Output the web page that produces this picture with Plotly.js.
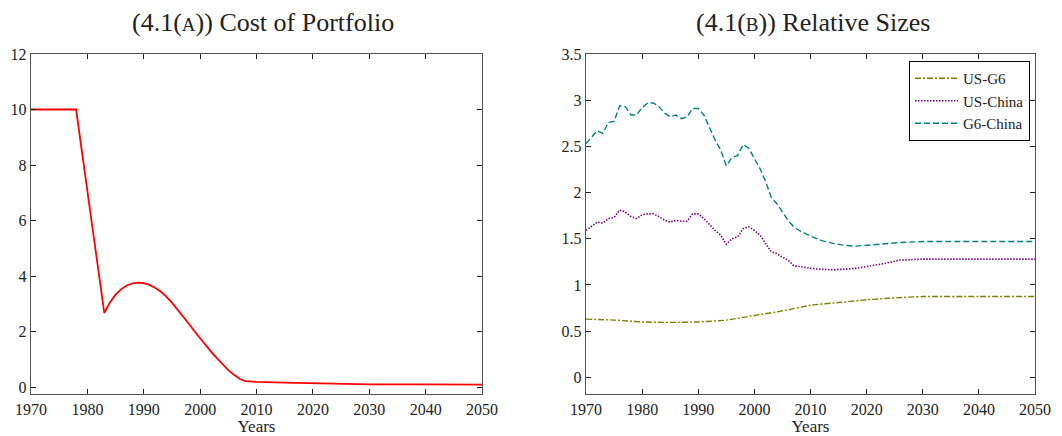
<!DOCTYPE html>
<html>
<head>
<meta charset="utf-8">
<script src="https://cdn.plot.ly/plotly-3.0.1.min.js"></script>
<style>html,body{margin:0;padding:0;background:#fff;}#chart{width:1062px;height:436px;}</style>
</head>
<body>
<div id="chart"></div>
<script>
// Panel A: cost of portfolio
const costYears = [1970,1978,1983,1984,1985,1986,1987,1988,1989,1990,1991,1992,1993,1994,1995,1996,1997,1998,1999,2000,2001,2002,2003,2004,2005,2006,2007,2008,2009,2010,2015,2020,2025,2030,2040,2050];
const costValues = [10,10,2.67,3.05,3.33,3.53,3.66,3.74,3.76,3.74,3.68,3.58,3.44,3.26,3.04,2.80,2.55,2.28,2.01,1.75,1.50,1.26,1.03,0.81,0.61,0.44,0.30,0.21,0.19,0.185,0.16,0.14,0.12,0.10,0.095,0.09];

// Panel B: relative sizes
const relYears = [1970,1972,1973,1974,1975,1976,1977,1978,1979,1980,1981,1982,1983,1984,1985,1986,1987,1988,1989,1990,1991,1992,1993,1994,1995,1996,1997,1998,1999,2000,2001,2002,2003,2004,2005,2006,2007,2008,2010,2012,2014,2016,2018,2020,2023,2026,2030,2040,2050];
const g6China = [2.53,2.67,2.64,2.76,2.77,2.94,2.93,2.84,2.84,2.92,2.97,2.97,2.93,2.86,2.82,2.84,2.80,2.82,2.91,2.91,2.84,2.70,2.57,2.46,2.29,2.38,2.40,2.52,2.48,2.37,2.26,2.12,1.95,1.88,1.79,1.70,1.63,1.59,1.53,1.48,1.45,1.43,1.42,1.43,1.44,1.46,1.47,1.47,1.47];
const usChina = [1.59,1.68,1.67,1.72,1.73,1.81,1.79,1.74,1.72,1.76,1.77,1.77,1.74,1.70,1.68,1.70,1.69,1.69,1.77,1.77,1.72,1.65,1.59,1.54,1.44,1.50,1.52,1.61,1.63,1.59,1.54,1.45,1.36,1.34,1.30,1.27,1.21,1.20,1.18,1.17,1.165,1.17,1.18,1.20,1.23,1.27,1.28,1.28,1.28];
const g6Years = [1970,1975,1980,1985,1990,1995,2000,2005,2010,2015,2020,2025,2030,2040,2050];
const usG6 = [0.63,0.62,0.60,0.595,0.60,0.62,0.67,0.72,0.78,0.81,0.84,0.86,0.875,0.875,0.875];

const xTicks = [1970,1980,1990,2000,2010,2020,2030,2040,2050];

const FONT = "'Liberation Serif','DejaVu Serif',serif";
const W = 1062, H = 436;

const traces = [
  {x: costYears, y: costValues, xaxis: 'x', yaxis: 'y', mode: 'lines', showlegend: false,
   line: {color: '#ff0000', width: 1.8}},
  {x: g6Years, y: usG6, xaxis: 'x2', yaxis: 'y2', mode: 'lines', name: 'US-G6',
   line: {color: '#808000', width: 1.4, dash: '6px,2px,2px,2px', shape: 'spline', smoothing: 0.6}},
  {x: relYears, y: usChina, xaxis: 'x2', yaxis: 'y2', mode: 'lines', name: 'US-China',
   line: {color: '#800080', width: 1.6, dash: '1.5px,1.5px'}},
  {x: relYears, y: g6China, xaxis: 'x2', yaxis: 'y2', mode: 'lines', name: 'G6-China',
   line: {color: '#008080', width: 1.4, dash: '6px,3px'}}
];

const axBase = {
  showline: true, linecolor: '#555', linewidth: 1.3, mirror: 'ticks',
  ticks: 'inside', ticklen: 5, tickcolor: '#222', tickwidth: 1,
  showgrid: false, zeroline: false,
  tickfont: {family: FONT, size: 16, color: '#222'}
};

const layout = {
  width: W, height: H,
  margin: {l: 0, r: 0, t: 0, b: 0},
  paper_bgcolor: '#fff', plot_bgcolor: '#fff',
  font: {family: FONT, color: '#222'},
  xaxis: Object.assign({}, axBase, {domain: [31/W, 482/W], range: [1970, 2050], tickvals: xTicks, anchor: 'y',
    title: {text: 'Years', font: {family: FONT, size: 17, color: '#222'}, standoff: 7}}),
  yaxis: Object.assign({}, axBase, {domain: [42/H, 382/H], range: [-0.25, 12], dtick: 2, tick0: 0, anchor: 'x'}),
  xaxis2: Object.assign({}, axBase, {domain: [586/W, 1035/W], range: [1970, 2050], tickvals: xTicks, anchor: 'y2',
    title: {text: 'Years', font: {family: FONT, size: 17, color: '#222'}, standoff: 7}}),
  yaxis2: Object.assign({}, axBase, {domain: [42/H, 382/H], range: [-0.18, 3.5], dtick: 0.5, tick0: 0, anchor: 'x2'}),
  legend: {x: 1030/W, xanchor: 'right', y: 1 - 61/H, yanchor: 'top',
    bordercolor: '#000', borderwidth: 1, bgcolor: '#fff', itemwidth: 43,
    font: {family: FONT, size: 15, color: '#222'}, tracegroupgap: 0},
  annotations: [
    {text: "(4.1(<span style='font-size:19px'>A</span>)) Cost of Portfolio", xref: 'paper', yref: 'paper',
     x: 263/W, y: 1 - 22/H, xanchor: 'center', yanchor: 'middle', showarrow: false,
     font: {family: FONT, size: 26, color: '#222'}},
    {text: "(4.1(<span style='font-size:19px'>B</span>)) Relative Sizes", xref: 'paper', yref: 'paper',
     x: 813/W, y: 1 - 22/H, xanchor: 'center', yanchor: 'middle', showarrow: false,
     font: {family: FONT, size: 26, color: '#222'}}
  ]
};

Plotly.newPlot('chart', traces, layout, {displayModeBar: false, staticPlot: true});
</script>
</body>
</html>
